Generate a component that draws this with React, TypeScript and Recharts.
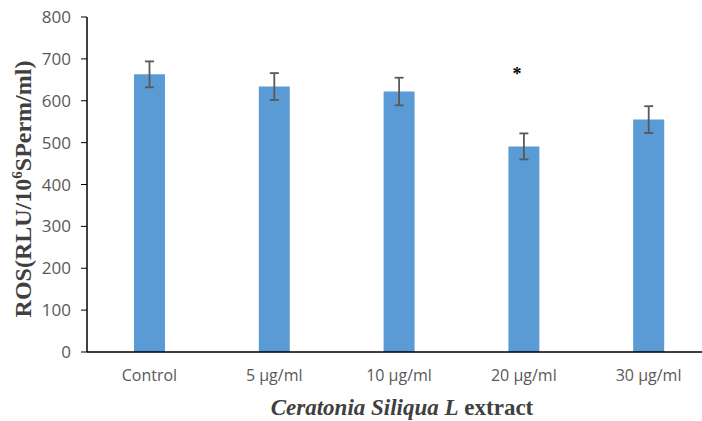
import React from 'react';
import { BarChart, Bar, XAxis, YAxis, ErrorBar, LabelList, Label } from 'recharts';

const categories = ['Control', '5 µg/ml', '10 µg/ml', '20 µg/ml', '30 µg/ml'];
const values = [663, 634, 622, 491, 555];
const errors = [31, 32, 33, 31, 32];
const marks = ['', '', '', '*', ''];
const yTicks = [0, 100, 200, 300, 400, 500, 600, 700, 800];

const data = categories.map((c, i) => ({ name: c, value: values[i], err: errors[i], mark: marks[i] }));

const StarLabel = (props: any) => {
  const { x, y, width, value } = props;
  if (!value) return null;
  return (
    <text x={x + width / 2 - 7} y={y - 66} textAnchor="middle" fontFamily="Liberation Serif" fontWeight="bold" fontSize={18} fill="#000">
      {value}
    </text>
  );
};

const YTitle = () => (
  <text
    x={0}
    y={0}
    transform="translate(31,189) rotate(-90)"
    textAnchor="middle"
    fontFamily="Liberation Serif"
    fontWeight="bold"
    fontSize={24}
    fill="#404040"
  >
    ROS(RLU/10<tspan fontSize={15} dy={-9}>6</tspan><tspan dy={9}>SPerm/ml)</tspan>
  </text>
);

const XTitle = () => (
  <text x={402} y={415} textAnchor="middle" fontFamily="Liberation Serif" fontWeight="bold" fontSize={23} fill="#404040">
    <tspan fontStyle="italic">Ceratonia Siliqua L</tspan> extract
  </text>
);

export default function App() {
  return (
    <div style={{ position: 'absolute', left: 0, top: 0, width: 702, height: 421, overflow: 'hidden', background: '#fff' }}>
      <BarChart width={720} height={421} data={data} margin={{ top: 17, right: 9, left: 0, bottom: 0 }}>
        <XAxis
          dataKey="name"
          height={69}
          tickLine={false}
          axisLine={{ stroke: '#000', strokeWidth: 1.5 }}
          tick={{ fill: '#595959', fontFamily: 'Open Sans', fontSize: 16 }}
          tickMargin={12}
        >
          <Label content={<XTitle />} />
        </XAxis>
        <YAxis
          width={87}
          domain={[0, 800]}
          ticks={yTicks}
          interval={0}
          tickSize={6}
          tickLine={{ stroke: '#000' }}
          axisLine={{ stroke: '#000', strokeWidth: 1.5 }}
          tick={{ fill: '#595959', fontFamily: 'Open Sans', fontSize: 17 }}
          tickMargin={10}
        >
          <Label content={<YTitle />} />
        </YAxis>
        <Bar dataKey="value" fill="#5B9BD5" barSize={31} isAnimationActive={false}>
          <ErrorBar dataKey="err" width={4.5} stroke="#595959" strokeWidth={1.8} />
          <LabelList dataKey="mark" content={<StarLabel />} />
        </Bar>
      </BarChart>
    </div>
  );
}
